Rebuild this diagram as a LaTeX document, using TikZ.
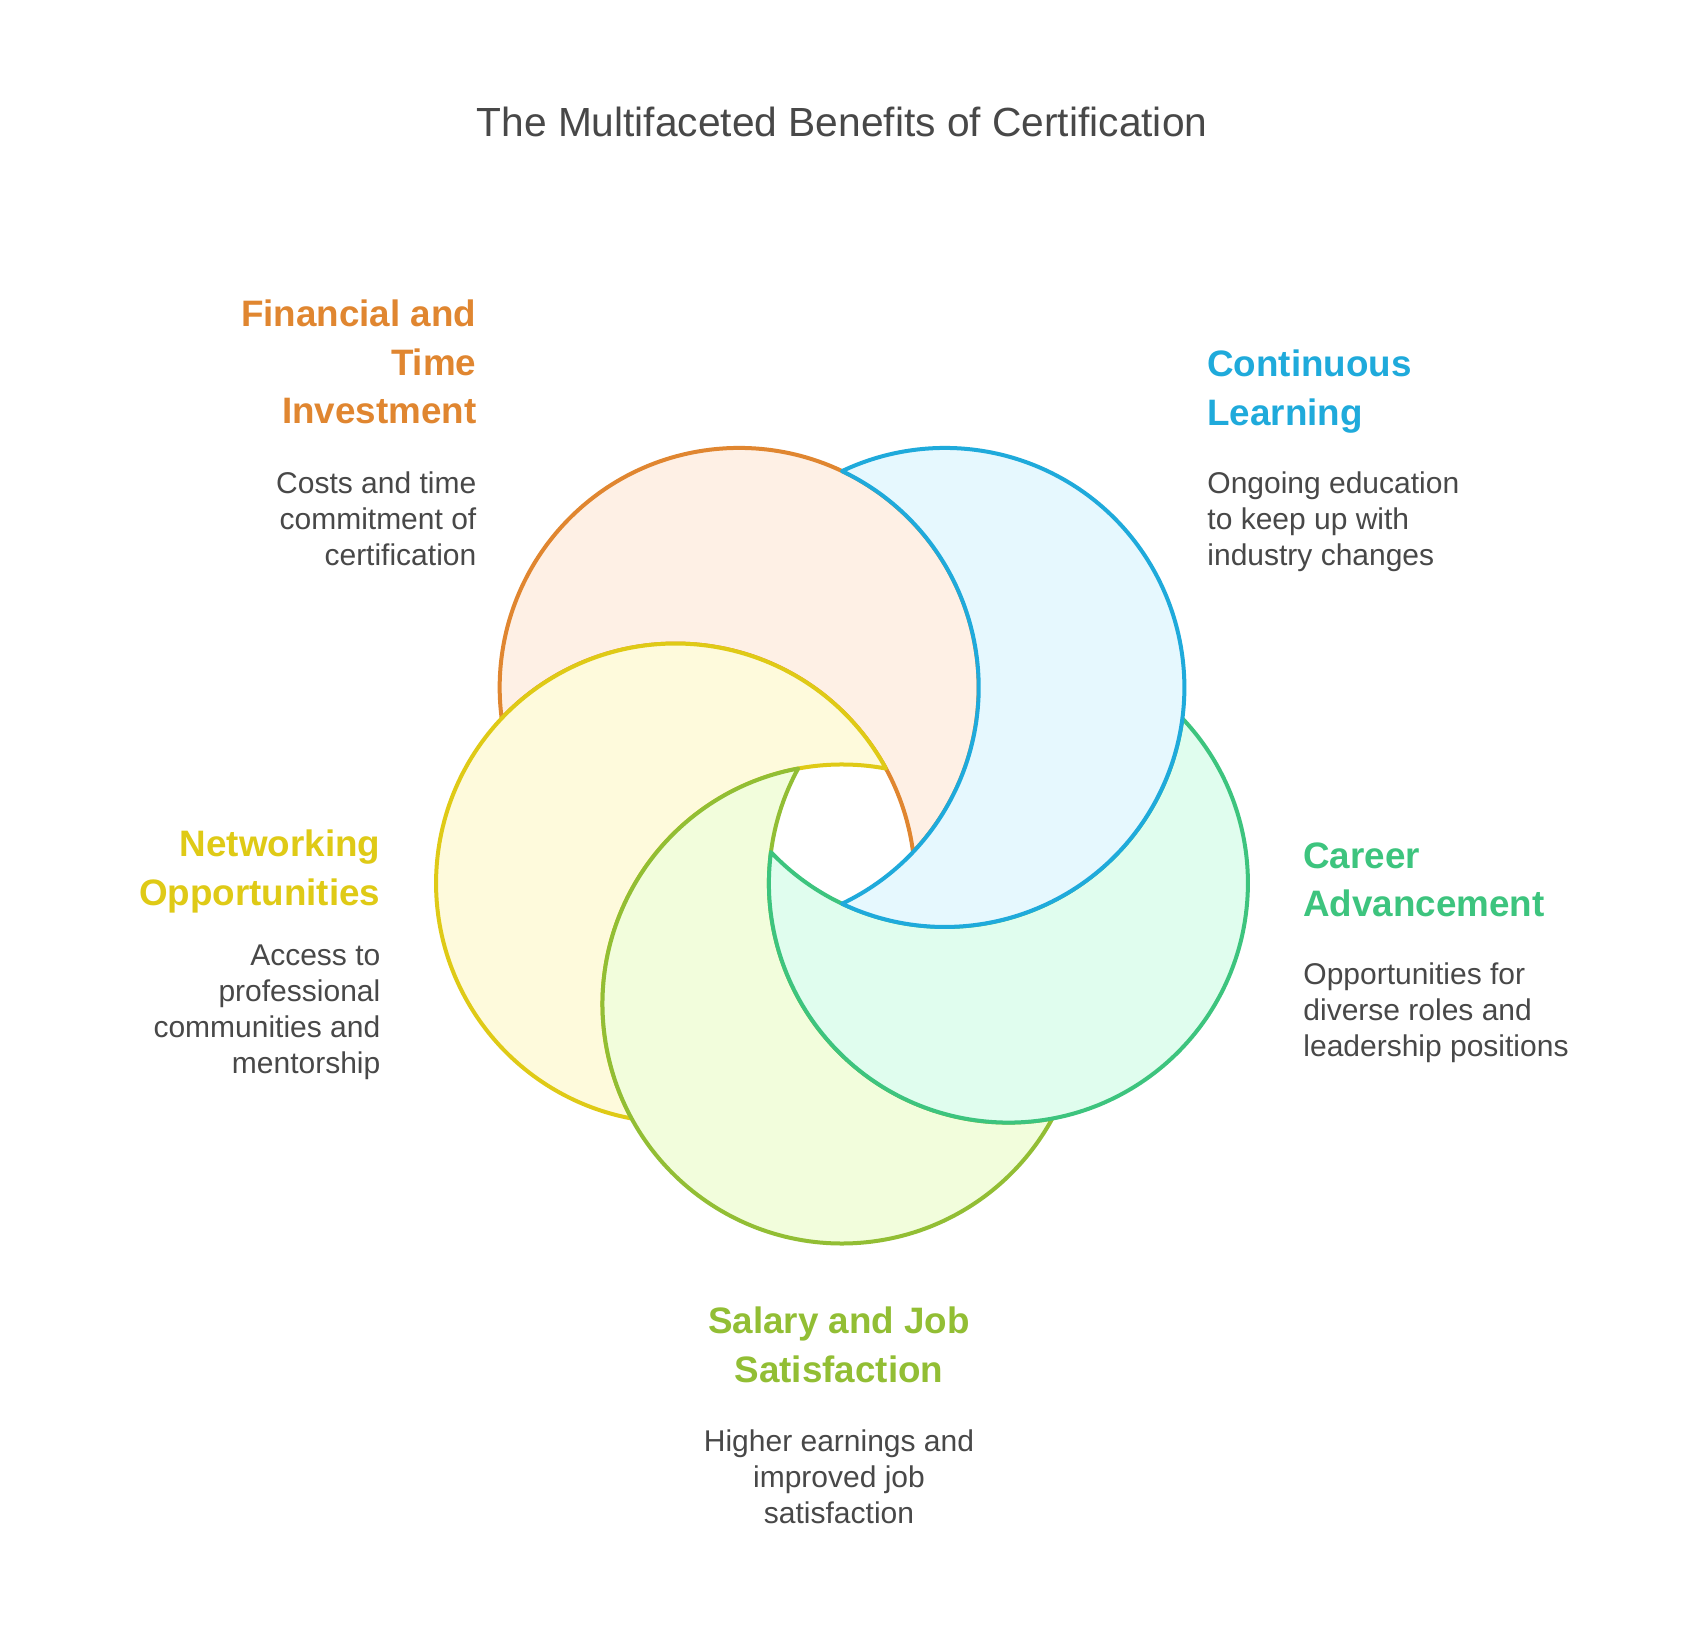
\documentclass[tikz,border=0pt]{standalone}
\usepackage{fontspec}
\setmainfont{Liberation Sans}
\definecolor{orS}{HTML}{E08630}
\definecolor{orF}{HTML}{FEF0E5}
\definecolor{blS}{HTML}{1FAADB}
\definecolor{blF}{HTML}{E6F8FE}
\definecolor{grS}{HTML}{3DC47E}
\definecolor{grF}{HTML}{E0FDEE}
\definecolor{liS}{HTML}{92BE34}
\definecolor{liF}{HTML}{F2FDDC}
\definecolor{yeS}{HTML}{DFCA16}
\definecolor{yeF}{HTML}{FEFADC}
\definecolor{txt}{HTML}{484848}
\begin{document}
\begin{tikzpicture}[x=0.5pt,y=0.5pt,
  crescent/.style={line width=2pt, line join=round},
  head/.style={font=\fontsize{18.4}{24.25}\selectfont\bfseries, inner sep=0pt},
  body/.style={font=\fontsize{15}{18}\selectfont, text=txt, inner sep=0pt}]
\useasboundingbox[fill=white] (0,0) rectangle (1684,1636);
\coordinate (C) at (842,807);
\foreach \t/\s/\f in {126/orS/orF, 198/yeS/yeF, 270/liS/liF, 342/grS/grF, 54/blS/blF} {
  \filldraw[crescent, draw=\s, fill=\f]
    ([shift={(\t+216:74.71)}]C)
    arc[start angle=\t+190.565, end angle=\t+421.43, radius=239.5]
    arc[start angle=\t+10.565, end angle=\t-118.57, radius=239.5] -- cycle;
}
\node[font=\fontsize{20.35}{24}\selectfont, text=txt, anchor=base, inner sep=0pt] (title) at (842,1499.3) {The Multifaceted Benefits of Certification};
% Financial
\node[head, text=orS, align=right, anchor=base east] (h1) at (476.7,1212.3) {Financial and\\Time\\Investment};
\node[body, align=right, anchor=base east] (b1) at (476.7,1070.7) {Costs and time\\commitment of\\certification};
% Continuous
\node[head, text=blS, align=left, anchor=base west] (h2) at (1207,1210.8) {Continuous\\Learning};
\node[body, align=left, anchor=base west] (b2) at (1207,1070.7) {Ongoing education\\to keep up with\\industry changes};
% Career
\node[head, text=grS, align=left, anchor=base west] (h3) at (1303,719.2) {Career\\Advancement};
\node[body, align=left, anchor=base west] (b3) at (1303,579) {Opportunities for\\diverse roles and\\leadership positions};
% Salary
\node[head, text=liS, align=center, anchor=base] (h4) at (839,253.5) {Salary and Job\\Satisfaction};
\node[body, align=center, anchor=base] (b4) at (839,112.3) {Higher earnings and\\improved job\\satisfaction};
% Networking
\node[head, text=yeS, align=right, anchor=base east] (h5) at (380.7,730.8) {Networking\\Opportunities};
\node[body, align=right, anchor=base east] (b5) at (380.7,562) {Access to\\professional\\communities and\\mentorship};
\end{tikzpicture}
\end{document}
